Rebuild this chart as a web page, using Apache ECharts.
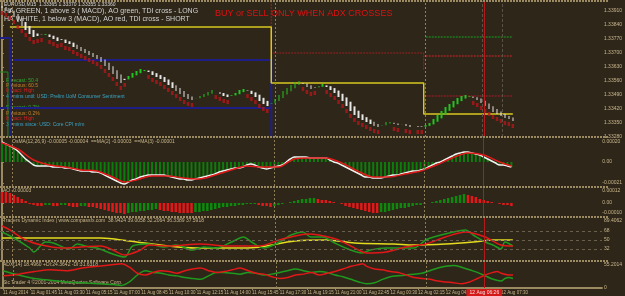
<!DOCTYPE html>
<html>
<head>
<meta charset="utf-8">
<script src="https://cdn.jsdelivr.net/npm/echarts@6/dist/echarts.min.js"></script>
<style>
html, body { margin: 0; padding: 0; background: #2e2619; }
#chart { width: 625px; height: 296px; }
</style>
</head>
<body>
<div id="chart"></div>
<script>
// EURUSD M15, heikin ashi closes (one per bar)
var closes = [
  1.33925, 1.33915, 1.33900, 1.33880, 1.33855, 1.33835, 1.33815, 1.33795, 1.33780, 1.33785,
  1.33790, 1.33795, 1.33780, 1.33770, 1.33760, 1.33765, 1.33750, 1.33745, 1.33730, 1.33720,
  1.33710, 1.33700, 1.33690, 1.33680, 1.33670, 1.33655, 1.33635, 1.33615, 1.33595, 1.33570,
  1.33550, 1.33565, 1.33585, 1.33600, 1.33610, 1.33620, 1.33615, 1.33605, 1.33590, 1.33580,
  1.33570, 1.33555, 1.33540, 1.33525, 1.33510, 1.33495, 1.33480, 1.33470, 1.33465, 1.33475,
  1.33485, 1.33495, 1.33505, 1.33515, 1.33505, 1.33495, 1.33485, 1.33480, 1.33490, 1.33500,
  1.33515, 1.33520, 1.33510, 1.33495, 1.33480, 1.33460, 1.33445, 1.33435, 1.33450, 1.33470,
  1.33490, 1.33510, 1.33525, 1.33540, 1.33555, 1.33560, 1.33545, 1.33530, 1.33520, 1.33525,
  1.33535, 1.33545, 1.33530, 1.33515, 1.33500, 1.33480, 1.33460, 1.33435, 1.33410, 1.33390,
  1.33375, 1.33365, 1.33355, 1.33345, 1.33335, 1.33330, 1.33340, 1.33355, 1.33355, 1.33345,
  1.33340, 1.33345, 1.33335, 1.33330, 1.33335, 1.33330, 1.33330, 1.33340, 1.33350, 1.33370,
  1.33390, 1.33410, 1.33430, 1.33445, 1.33460, 1.33475, 1.33485, 1.33490, 1.33485, 1.33475,
  1.33465, 1.33450, 1.33435, 1.33420, 1.33405, 1.33395, 1.33385, 1.33375, 1.33370, 1.33360
];

// price levels drawn on the main chart: [bar, price]
var yellowLevel = [[2, 1.3383], [68, 1.3383], [68, 1.3355], [106.5, 1.3355], [106.5, 1.33395], [129, 1.33395]];
var blueHigh = [[-0.5, 1.33775], [2, 1.33775], [2, 1.33665], [68, 1.33665], [68, 1.3328]];
var blueLeft = [[2, 1.33775], [2, 1.3328]];
var blueLow = [[-0.5, 1.33425], [68, 1.33425]];
var greenLeft = [[-0.5, 1.33605], [1.5, 1.33605], [1.5, 1.3328]];
var redLevel = [[68, 1.3396], [68, 1.337], [106.5, 1.337], [106.5, 1.33615]];
var pivotBars = [107, 129];
var pivotR3 = 1.3378, pivotR2 = 1.33685, pivotR1 = 1.33485;
var bidLevel = 1.33345;

// OsMA / MACD main (histogram + white line)
var macd = [
  0.0002, 0.00018, 0.00016, 0.00014, 0.00011, 0.00007, 0.00003, 0, -0.00003, -0.00004,
  -0.00004, -0.00004, -0.00004, -0.00005, -0.00005, -0.00005, -0.00006, -0.00006, -0.00007, -0.00008,
  -0.00009, -0.00009, -0.00009, -0.0001, -0.0001, -0.00011, -0.00013, -0.00015, -0.00017, -0.00019,
  -0.00021, -0.00022, -0.0002, -0.00018, -0.00017, -0.00015, -0.00014, -0.00013, -0.00013, -0.00013,
  -0.00013, -0.00013, -0.00014, -0.00015, -0.00016, -0.00017, -0.00017, -0.00018, -0.00018, -0.00017,
  -0.00016, -0.00015, -0.00014, -0.00013, -0.00012, -0.0001, -0.00009, -0.00008, -0.00007, -0.00006,
  -0.00006, -0.00005, -0.00003, -0.00002, -0.00003, -0.00005, -0.00006, -0.00007, -0.00006, -0.00005,
  -0.00004, -0.00003, 0, 0.00003, 0.00005, 0.00005, 0.00005, 0.00005, 0.00004, 0.00004,
  0.00004, 0.00004, 0.00004, 0.00002, 0, -0.00001, -0.00003, -0.00005, -0.00007, -0.00009,
  -0.00011, -0.00013, -0.00015, -0.00015, -0.00016, -0.00016, -0.00016, -0.00015, -0.00014, -0.00013,
  -0.00013, -0.00012, -0.00011, -0.0001, -0.00009, -0.00009, -0.00008, -0.00007, -0.00005, -0.00003,
  -0.00001, 0, 0.00002, 0.00004, 0.00006, 0.00008, 0.00009, 0.0001, 0.0001, 0.00009,
  0.00008, 0.00007, 0.00005, 0.00003, 0.00001, -0.00001, -0.00003, -0.00003, -0.00004, -0.00005
];
var macdSignal = [
  [0, 0.00019], [4, 0.00013], [8, 0.00002], [12, -0.00003], [16, -0.00005], [20, -0.00008],
  [24, -0.00009], [28, -0.00015], [31, -0.0002], [34, -0.00018], [38, -0.00014], [42, -0.00014],
  [46, -0.00016], [50, -0.00017], [54, -0.00013], [58, -0.00008], [62, -0.00004], [66, -0.00005],
  [70, -0.00005], [74, 0.00003], [78, 0.00004], [82, 0.00004], [86, -0.00001], [90, -0.00009],
  [94, -0.00015], [98, -0.00015], [102, -0.00012], [106, -0.00009], [110, -0.00003], [114, 0.00004],
  [118, 0.00009], [122, 0.00007], [126, 0], [129, -0.00004]
];

// Awesome Oscillator
var ao = [
  0.00011, 0.00011, 0.0001, 0.00008, 0.00006, 0.00004, 0.00002,
  -0.00001, -0.00002, -0.00003, -0.00003, -0.00002, -0.00002, -0.00003, -0.00003, -0.00002, -0.00002, -0.00003, -0.00004, -0.00004, -0.00003, -0.00003, -0.00004,
  -0.00004, -0.00005, -0.00006, -0.00007, -0.00008, -0.00009, -0.0001, -0.0001, -0.00011,
  -0.0001, -0.00009, -0.00009, -0.00008, -0.00008, -0.00007, -0.00007, -0.00006,
  -0.00007, -0.00008, -0.00008, -0.00009, -0.00009, -0.0001, -0.0001, -0.0001, -0.0001,
  -0.00009, -0.00009, -0.00008, -0.00008, -0.00007, -0.00006, -0.00005, -0.00004, -0.00004, -0.00003, -0.00003,
  -0.00002, -0.00002, -0.00001, -0.00001, -0.00001,
  -0.00002, -0.00003, -0.00003, -0.00004,
  -0.00003, -0.00002, -0.00001, 0,
  0.00001, 0.00002, 0.00003, 0.00004, 0.00004, 0.00005, 0.00005,
  0.00004, 0.00003, 0.00003, 0.00002, 0.00001,
  0, -0.00001, -0.00003, -0.00004, -0.00005, -0.00006, -0.00007, -0.00008, -0.00009, -0.0001, -0.0001,
  -0.00009, -0.00009, -0.00008, -0.00007, -0.00006, -0.00005, -0.00005, -0.00004, -0.00003, -0.00002, -0.00002, -0.00001,
  0, 0.00001, 0.00002, 0.00003, 0.00004, 0.00005, 0.00006, 0.00007, 0.00008, 0.00009,
  0.00008, 0.00007, 0.00006, 0.00004, 0.00003, 0.00002, 0.00001,
  0, -0.00001, -0.00002, -0.00002, -0.00003
];

// Traders Dynamic Index: [bar, value]
var tdiGreen = [
  [0, 66], [3, 54], [7, 34], [8, 26], [11, 46], [13, 44], [17, 32], [19, 42], [22, 36], [24, 34],
  [28, 22], [31, 16], [33, 38], [37, 42], [41, 36], [44, 40], [48, 30], [51, 36], [54, 34], [58, 46],
  [61, 56], [63, 46], [66, 34], [68, 38], [71, 50], [73, 60], [76, 66], [78, 56], [81, 56], [84, 44],
  [88, 30], [91, 24], [93, 30], [97, 34], [101, 34], [104, 34], [107, 50], [109, 56], [114, 66], [117, 70],
  [119, 60], [122, 46], [124, 40], [126, 32], [127, 46], [129, 38]
];
var tdiRed = [
  [0, 78], [2, 70], [6, 50], [10, 40], [15, 34], [20, 36], [25, 38], [28, 30], [31, 20], [35, 30],
  [37, 40], [42, 38], [50, 42], [57, 38], [65, 38], [70, 50], [73, 56], [77, 62], [80, 60], [85, 50],
  [90, 30], [92, 24], [97, 26], [102, 36], [107, 42], [112, 56], [117, 66], [122, 56], [126, 40], [129, 38]
];
var tdiYellow = [
  [0, 54], [12, 54], [25, 54], [32, 48], [42, 38], [49, 34], [62, 34], [74, 48], [82, 50], [89, 44],
  [99, 42], [104, 40], [112, 42], [119, 46], [124, 50], [129, 50]
];
var tdiLevels = [32, 50, 68];

// ADX +DI (green) / -DI (red): [bar, value]
var adxPlus = [
  [0, 40], [4, 30], [8, 22], [12, 18], [16, 14], [20, 12], [24, 10], [28, 8], [30, 6], [32, 14],
  [34, 30], [36, 40], [38, 36], [40, 34], [42, 30], [44, 28], [46, 24], [48, 22], [50, 20], [52, 28],
  [54, 36], [56, 36], [58, 34], [60, 32], [62, 36], [64, 34], [66, 30], [68, 32], [70, 36], [72, 40],
  [74, 44], [76, 40], [78, 36], [80, 38], [82, 36], [84, 30], [86, 26], [88, 20], [90, 14], [92, 10],
  [94, 12], [96, 20], [98, 26], [100, 28], [102, 30], [104, 32], [106, 34], [108, 40], [110, 46], [112, 50],
  [114, 52], [116, 48], [118, 42], [120, 36], [122, 28], [124, 20], [126, 16], [127, 22], [128, 24], [129, 22]
];
var adxMinus = [
  [0, 28], [4, 32], [8, 38], [12, 42], [16, 40], [20, 46], [24, 50], [28, 54], [30, 56], [32, 48],
  [34, 34], [36, 30], [38, 36], [40, 40], [42, 38], [44, 34], [46, 40], [48, 44], [50, 46], [52, 40],
  [54, 36], [56, 38], [58, 42], [60, 46], [62, 40], [64, 34], [66, 32], [68, 26], [70, 22], [72, 24],
  [74, 30], [76, 32], [78, 36], [80, 30], [82, 34], [84, 38], [86, 44], [88, 50], [90, 54], [91, 56],
  [92, 50], [94, 44], [96, 42], [98, 38], [100, 36], [102, 30], [104, 24], [106, 22], [108, 20], [110, 16],
  [112, 14], [114, 12], [116, 10], [118, 14], [120, 22], [122, 30], [124, 36], [125, 38], [126, 34], [128, 30], [129, 30]
];

// time scale
var timeTicks = [0, 7, 14, 21, 28, 35, 42, 49, 56, 63, 70, 77, 84, 91, 98, 105, 112, 126];
var timeLabels = [
  '11 Aug 2014', '11 Aug 01:45', '11 Aug 03:30', '11 Aug 05:15', '11 Aug 07:00', '11 Aug 08:45',
  '11 Aug 10:30', '11 Aug 12:15', '11 Aug 14:00', '11 Aug 15:45', '11 Aug 17:30', '11 Aug 19:15',
  '11 Aug 21:00', '11 Aug 22:45', '12 Aug 00:30', '12 Aug 02:15', '12 Aug 04:00', '12 Aug 07:30'
];
var sessionBars = [2.5, 69, 107];
var cursorBar = 121.75, cursorLabel = '12 Aug 06:26';
var markerBars = [121.25, 126.25];

var BG = '#2e2619', TAN = '#9c8a62', TXT = '#c9b78d';
var FONT = '"Liberation Sans", Arial, sans-serif';

// heikin ashi open from the closes
var haOpen = [], candles = [], bearMarks = [];
for (var i = 0; i < closes.length; i++) {
  var o = i === 0 ? closes[0] + 0.0001 : (haOpen[i - 1] + closes[i - 1]) / 2;
  haOpen.push(o);
  candles.push([i, o, closes[i], Math.min(o, closes[i]), Math.max(o, closes[i])]);
  if (closes[i] < o) bearMarks.push([i, closes[i]]);
}

var macdBars = macd.map(function (v, i) { return [i, v]; });
var aoBars = [];
var aoCol = '#e01a1a';
for (var j = 0; j < ao.length; j++) {
  if (j > 0 && ao[j] > ao[j - 1]) aoCol = '#0d8a0d';
  else if (j > 0 && ao[j] < ao[j - 1]) aoCol = '#e01a1a';
  aoBars.push({ value: [j, ao[j]], itemStyle: { color: aoCol } });
}

function vMarks(withMarkers) {
  var d = sessionBars.map(function (v) {
    return { xAxis: v, lineStyle: { color: '#8f7d55', type: [2, 2], width: 1 } };
  });
  d.push({ xAxis: cursorBar, lineStyle: { color: '#b51a1a', type: 'solid', width: 1 } });
  if (withMarkers) {
    markerBars.forEach(function (v) {
      d.push({ xAxis: v, lineStyle: { color: '#5a5246', type: [3, 2], width: 1 } });
    });
  }
  return { silent: true, symbol: 'none', label: { show: false }, data: d, animation: false };
}

var grids = [
  { left: 0, right: 17, top: 1, height: 136 },
  { left: 0, right: 17, top: 138, height: 48 },
  { left: 0, right: 17, top: 188, height: 28 },
  { left: 0, right: 17, top: 218, height: 42 },
  { left: 0, right: 17, top: 262, height: 26 }
];

var xAxes = grids.map(function (g, k) {
  var last = k === grids.length - 1;
  return {
    type: 'value', gridIndex: k, min: -0.5, max: 151.5,
    show: last,
    axisLine: { show: true, lineStyle: { color: TAN, width: 2 } },
    axisTick: { show: true, customValues: timeTicks, length: 2, inside: false, lineStyle: { color: TAN } },
    axisLabel: {
      customValues: timeTicks, color: TXT, fontSize: 4.5, fontFamily: FONT, align: 'left', margin: 2,
      hideOverlap: false, showMinLabel: true,
      formatter: function (v) { return timeLabels[timeTicks.indexOf(v)] || ''; }
    },
    splitLine: { show: false }
  };
});

function yAx(k, min, max, ticks, fmt) {
  return {
    type: 'value', gridIndex: k, position: 'right', min: min, max: max, scale: true,
    axisLine: { show: true, lineStyle: { color: TAN, width: 2 } },
    axisTick: { show: true, customValues: ticks, length: 2, lineStyle: { color: TAN } },
    axisLabel: { customValues: ticks, color: TXT, fontSize: 5, fontFamily: FONT, margin: 2, formatter: fmt },
    splitLine: { show: false }
  };
}
var priceTicks = [1.3328, 1.3335, 1.3342, 1.3349, 1.3356, 1.3363, 1.337, 1.3377, 1.3384, 1.3391];
var yAxes = [
  yAx(0, 1.3328, 1.3396, priceTicks, function (v) { return v.toFixed(5); }),
  yAx(1, -0.00024, 0.00024, [-0.00021, 0, 0.0002], function (v) { return v === 0 ? '0.00' : v.toFixed(5); }),
  yAx(2, -0.00013, 0.00015, [-0.0001, 0, 0.00012], function (v) { return v === 0 ? '0.00' : v.toFixed(5); }),
  yAx(3, 10, 94, [32, 50, 68, 89], function (v) { return v === 89 ? '89.4062' : String(v); }),
  yAx(4, 0, 60, [0, 55], function (v) { return v === 55 ? '55.2014' : String(v); })
];

function lvl(data, color, width, type, k) {
  return {
    type: 'line', xAxisIndex: k || 0, yAxisIndex: k || 0, data: data, symbol: 'none',
    lineStyle: { color: color, width: width, type: type || 'solid' }, silent: true, z: 1, animation: false
  };
}
function pivot(val, color, width, name) {
  return {
    type: 'line', xAxisIndex: 0, yAxisIndex: 0, symbol: 'none', silent: true, z: 1, animation: false,
    lineStyle: { color: color, width: width, type: [2, 1] },
    data: [
      { value: [pivotBars[0], val], label: { show: true, formatter: name, position: 'right', offset: [-2, 5], color: '#b52424', fontSize: 6, fontFamily: FONT } },
      [pivotBars[1], val]
    ]
  };
}
function ind(k, data, color, width) {
  return {
    type: 'line', xAxisIndex: k, yAxisIndex: k, data: data, symbol: 'none', smooth: 0.3,
    lineStyle: { color: color, width: width || 1.5 }, silent: true, animation: false, z: 3
  };
}

var series = [
  lvl(blueHigh, '#1e1e86', 2),
  lvl(blueLeft, '#1e1e86', 2),
  lvl(blueLow, '#1e1e86', 2),
  lvl(greenLeft, '#1f8a1f', 1),
  lvl(redLevel, '#9a2222', 1, [2, 1]),
  lvl(yellowLevel, '#d8c820', 1.5),
  pivot(pivotR3, '#1f7a1f', 1.5, 'R3'),
  pivot(pivotR2, '#9e2626', 1.5, 'R2'),
  pivot(pivotR1, '#6e2020', 2, 'R1'),
  {
    type: 'scatter', xAxisIndex: 0, yAxisIndex: 0, data: bearMarks, symbol: 'rect', symbolSize: [2.5, 4],
    symbolOffset: [0, 5], itemStyle: { color: '#b3161a' }, silent: true, animation: false, z: 2
  },
  {
    type: 'candlestick', xAxisIndex: 0, yAxisIndex: 0, data: candles, encode: { x: 0, y: [1, 2, 3, 4] },
    barWidth: 2, silent: true, animation: false, z: 3,
    itemStyle: { color: '#22c322', color0: '#e6e6e6', borderColor: '#22c322', borderColor0: '#e6e6e6', borderWidth: 0 },
    markLine: (function () {
      var m = vMarks(true);
      m.data.push({
        yAxis: bidLevel, lineStyle: { color: '#12a612', width: 1, type: 'solid' },
        label: { show: true, position: 'end', distance: 1, formatter: bidLevel.toFixed(5), color: '#1a1200',
          backgroundColor: '#d0a418', fontSize: 5, fontFamily: FONT, padding: [1, 2] }
      });
      return m;
    })()
  },
  {
    type: 'bar', xAxisIndex: 1, yAxisIndex: 1, data: macdBars, barWidth: 2, silent: true, animation: false,
    itemStyle: { color: '#0b7d0b' }, markLine: vMarks(false)
  },
  ind(1, macdBars, '#f2f2f2', 1.5),
  ind(1, macdSignal, '#e01a1a', 1.5),
  {
    type: 'bar', xAxisIndex: 2, yAxisIndex: 2, data: aoBars, barWidth: 2.5, silent: true, animation: false,
    markLine: vMarks(false)
  },
  (function () {
    var s = ind(3, tdiYellow, '#e4dc1e', 1.5);
    s.markLine = vMarks(false);
    tdiLevels.forEach(function (v) {
      s.markLine.data.push({ yAxis: v, lineStyle: { color: '#6a5f4a', type: [3, 3], width: 1 } });
    });
    return s;
  })(),
  ind(3, tdiGreen, '#1f9a1f', 1.5),
  ind(3, tdiRed, '#e01818', 1.5),
  (function () { var s = ind(4, adxPlus, '#1f9a1f', 1.5); s.markLine = vMarks(false); return s; })(),
  ind(4, adxMinus, '#e01818', 1.5)
];

function txt(x, y, s, color, size) {
  return { type: 'text', left: x, top: y, z: 0, silent: true,
    style: { text: s, fill: color, font: size + 'px ' + FONT } };
}
var sepYs = [1, 137, 187, 217, 261];
var graphics = sepYs.map(function (y) {
  return { type: 'line', silent: true, z: 10, shape: { x1: 0, y1: y, x2: 608, y2: y },
    style: { stroke: TAN, lineWidth: 2, lineDash: [2, 1] } };
}).concat([
  txt(4, 2, 'EURUSD,M15  1.33365 1.33370 1.33355 1.33360', '#d8d8d8', 5),
  txt(4, 8, 'HA GREEN, 1 above 3 ( MACD), AO green, TDI cross - LONG', '#d2d2d2', 7),
  txt(4, 16, 'HA WHITE, 1 below 3 (MACD), AO red, TDI cross - SHORT', '#d2d2d2', 7),
  txt(215, 9, 'BUY or SELL ONLY WHEN ADX CROSSES', '#e01010', 9),
  txt(6, 78.5, 'Forecast: 50.4', '#2faa2f', 5),
  txt(6, 83, 'Previous: 60.5', '#c8832a', 5),
  txt(6, 88, 'Impact: High', '#d42020', 5),
  txt(6, 94, '46 mins until: USD: Prelim UoM Consumer Sentiment', '#3aa6c8', 5),
  txt(6, 105.5, 'Forecast: 0.7%', '#2faa2f', 5),
  txt(6, 111, 'Previous: 0.2%', '#c8832a', 5),
  txt(6, 116.5, 'Impact: High', '#d42020', 5),
  txt(6, 122.5, '30 mins since: USD: Core CPI m/m', '#3aa6c8', 5),
  txt(12, 139.5, 'OsMA(12,26,9) -0.00005 -0.00004  ==MA(2) -0.00003  ==MA(3) -0.00001', TXT, 5),
  txt(3, 188.5, 'AO -0.00003', TXT, 5),
  txt(3, 218.5, 'Traders Dynamic Index | www.compassfx.com  38.9424 39.0058 32.2064 36.3389 37.5918', TXT, 5),
  txt(3, 262.5, 'ADX(14) 18.4960 +DI:24.3642 -DI:31.6318', TXT, 5),
  txt(3, 280.5, 'Sic Trader 4 \u00a92001-2014 MetaQuotes Software Corp.', TXT, 5)
]);

var chart = echarts.init(document.getElementById('chart'), null, { renderer: 'canvas' });
chart.setOption({
  backgroundColor: BG,
  animation: false,
  grid: grids,
  xAxis: xAxes,
  yAxis: yAxes,
  series: series,
  graphic: graphics
});

// red time box under the cursor line
var cx = chart.convertToPixel({ xAxisIndex: 4 }, cursorBar);
chart.setOption({
  graphic: graphics.concat([{
    type: 'text', x: cx, y: 289, z: 20, silent: true,
    style: { text: cursorLabel, fill: '#f4dede', font: '5px ' + FONT, align: 'center',
      backgroundColor: '#d41818', padding: [1, 3] }
  }])
});
</script>
</body>
</html>
